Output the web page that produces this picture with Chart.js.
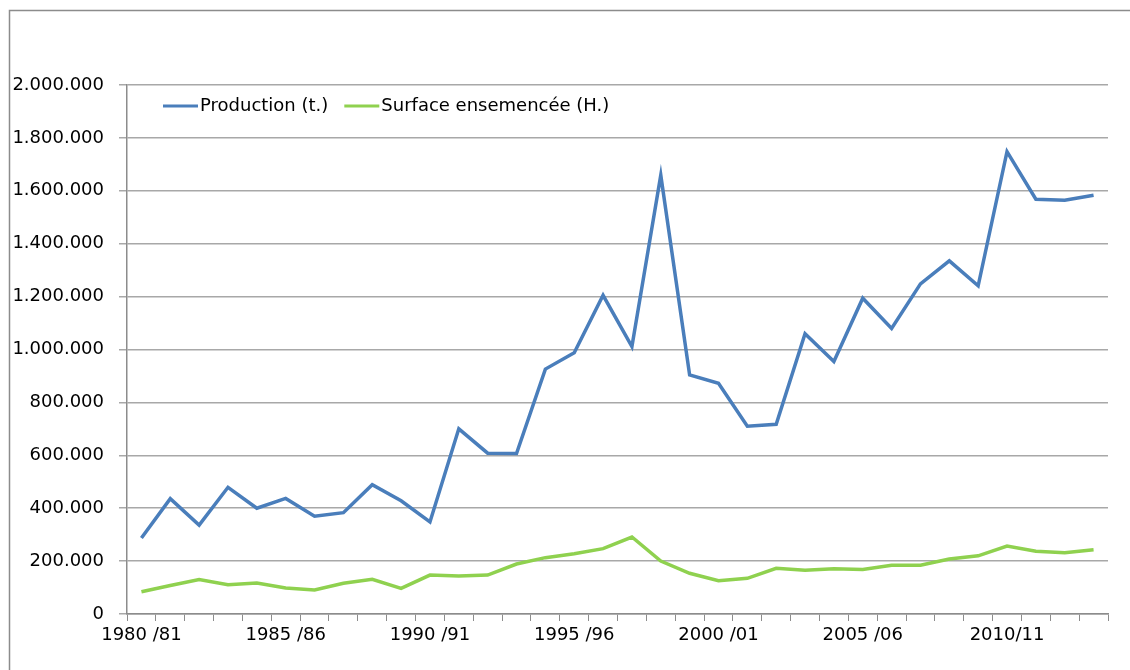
<!DOCTYPE html>
<html>
<head>
<meta charset="utf-8">
<script src="https://cdn.jsdelivr.net/npm/chart.js@4.4.1/dist/chart.umd.min.js"></script>
<style>
  html, body { margin: 0; padding: 0; background: #fff; overflow: hidden; }
  #wrap { width: 1130px; height: 670px; position: relative; }
</style>
</head>
<body>
<div id="wrap"><canvas id="chart"></canvas></div>
<script>
// Campagnes agricoles
const campagnes = [
  '1980 /81', '1981 /82', '1982 /83', '1983 /84', '1984 /85',
  '1985 /86', '1986 /87', '1987 /88', '1988 /89', '1989 /90',
  '1990 /91', '1991 /92', '1992 /93', '1993 /94', '1994 /95',
  '1995 /96', '1996 /97', '1997 /98', '1998 /99', '1999 /00',
  '2000 /01', '2001 /02', '2002 /03', '2003 /04', '2004 /05',
  '2005 /06', '2006 /07', '2007 /08', '2008 /09', '2009 /10',
  '2010/11', '2011/12', '2012/13', '2013/14'
];

// Production (t.)
const production = [
  287000, 436000, 336000, 479000, 400000, 437000, 370000, 383000, 489000, 428000,
  348000, 700000, 608000, 607000, 926000, 988000, 1205000, 1011000, 1659000, 904000,
  872000, 710000, 717000, 1060000, 955000, 1194000, 1080000, 1248000, 1335000, 1241000,
  1748000, 1568000, 1564000, 1583000
];

// Surface ensemencée (H.)
const surface = [
  84000, 108000, 130000, 111000, 117000, 98000, 91000, 116000, 131000, 97000,
  147000, 144000, 147000, 189000, 213000, 228000, 247000, 291000, 200000, 154000,
  126000, 135000, 173000, 165000, 171000, 168000, 184000, 184000, 208000, 220000,
  257000, 237000, 232000, 243000
];

const yMax = 2000000;
const yStep = 200000;

const police = 'DejaVu Sans';

// format 1.234.567
function formatNombre(v) {
  return String(v).replace(/\B(?=(\d{3})+(?!\d))/g, '.');
}

// cadre gris + légende dans la zone du graphique
const decorPlugin = {
  id: 'decor',
  beforeDraw(chart) {
    const c = chart.ctx;
    c.save();
    c.strokeStyle = '#8c8c8c';
    c.lineWidth = 1.5;
    c.beginPath();
    c.moveTo(9.5, 670);
    c.lineTo(9.5, 10.5);
    c.lineTo(1130, 10.5);
    c.stroke();
    c.restore();
  },
  afterDraw(chart) {
    const c = chart.ctx;
    const y = chart.chartArea.top + 21;
    let x = chart.chartArea.left + 36;
    c.save();
    c.font = '18px "' + police + '"';
    c.textBaseline = 'middle';
    chart.data.datasets.forEach(ds => {
      c.strokeStyle = ds.borderColor;
      c.lineWidth = 3;
      c.beginPath();
      c.moveTo(x, y);
      c.lineTo(x + 35, y);
      c.stroke();
      x += 37;
      c.fillStyle = '#000';
      c.fillText(ds.label, x, y);
      x += c.measureText(ds.label).width + 16;
    });
    c.restore();
  }
};

const ctx = document.getElementById('chart').getContext('2d');

const myChart = new Chart(ctx, {
  type: 'line',
  data: {
    labels: campagnes,
    datasets: [
      {
        label: 'Production (t.)',
        data: production,
        borderColor: '#4a7ebb',
        backgroundColor: '#4a7ebb',
        borderWidth: 3.5,
        pointRadius: 0,
        tension: 0
      },
      {
        label: 'Surface ensemencée (H.)',
        data: surface,
        borderColor: '#8fd14f',
        backgroundColor: '#8fd14f',
        borderWidth: 3.5,
        pointRadius: 0,
        tension: 0
      }
    ]
  },
  options: {
    responsive: true,
    maintainAspectRatio: false,
    animation: false,
    layout: {
      padding: { top: 85, right: 22, bottom: 16, left: 0 }
    },
    plugins: {
      legend: { display: false },
      tooltip: { enabled: false }
    },
    scales: {
      x: {
        offset: true,
        grid: {
          offset: true,
          drawOnChartArea: false,
          drawTicks: true,
          tickLength: 7,
          color: '#8c8c8c'
        },
        border: { color: '#8c8c8c', width: 1.5 },
        ticks: {
          autoSkip: false,
          maxRotation: 0,
          padding: 4,
          color: '#000',
          font: { family: police, size: 18 },
          callback: function (value, index) {
            return index % 5 === 0 ? this.getLabelForValue(value) : '';
          }
        },
        afterFit(scale) { scale.height = 40; }
      },
      y: {
        min: 0,
        max: yMax,
        grid: {
          color: '#a8a8a8',
          lineWidth: 1.5,
          tickLength: 8
        },
        border: { color: '#8c8c8c', width: 1.5 },
        ticks: {
          stepSize: yStep,
          padding: 15,
          color: '#000',
          font: { family: police, size: 18 },
          callback: v => formatNombre(v)
        },
        afterFit(scale) { scale.width = 127; }
      }
    }
  },
  plugins: [decorPlugin]
});
</script>
</body>
</html>
